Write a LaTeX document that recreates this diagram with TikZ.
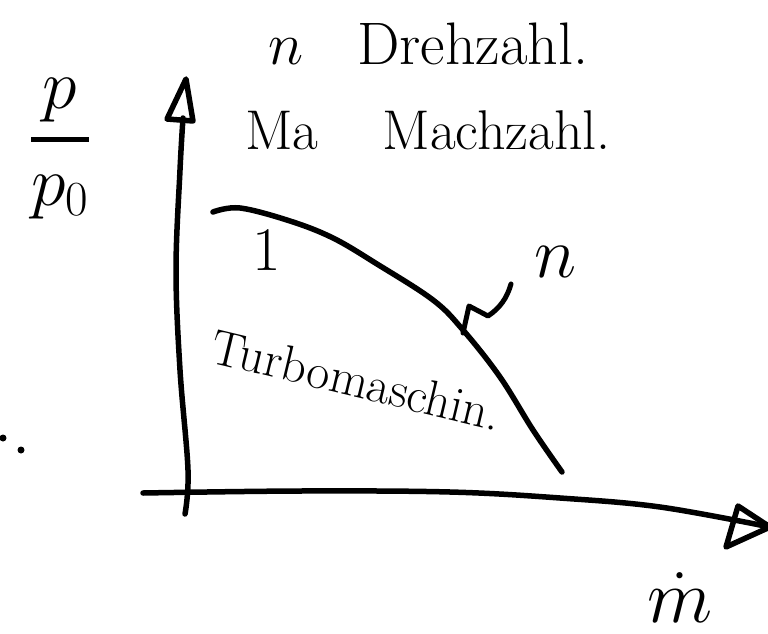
\RequirePackage{fix-cm}
\documentclass[tikz,border=0pt]{standalone}
\usepackage{amsmath}
\usetikzlibrary{calc}
\tikzset{
  pen/.style={line width=5.5pt, line cap=round, line join=round, black},
  thinpen/.style={line width=5pt, line cap=round, line join=round, black},
  hand/.style={inner sep=0pt, outer sep=0pt, text=black},
  blob/.style={circle, fill=black, inner sep=0pt, minimum size=7pt}
}
\newcommand{\fs}[1]{\fontsize{#1}{1.2\dimexpr#1pt\relax}\selectfont}
\begin{document}
\begin{tikzpicture}[x=1pt,y=-1pt]
  \clip (0,0) rectangle (768,634);
  \fill[white] (0,0) rectangle (768,634);

  % coordinates of the axes
  \coordinate (ybot) at (185,514);
  \coordinate (ytop) at (183,118);
  \coordinate (ytip) at (186,79);
  \coordinate (yleft) at (167,119);
  \coordinate (yright) at (193,121);
  \coordinate (xleft) at (143,493);
  \coordinate (xright) at (770,527);
  \coordinate (xup) at (738,506);
  \coordinate (xdown) at (726,547);

  % y axis
  \draw[pen] plot[smooth, tension=0.6] coordinates {(ybot) (188,470) (180,370) (176,270) (180,170) (ytop)};
  \draw[pen] (ytip) -- (yleft) -- (yright) -- cycle;

  % x axis
  \draw[pen] plot[smooth, tension=0.6] coordinates {(xleft) (300,491) (450,492) (560,498) (660,507) (xright)};
  \draw[pen] (xup) -- (xdown) -- (xright) -- cycle;

  % characteristic curve
  \draw[pen] plot[smooth, tension=0.6] coordinates {(213,212) (240,208) (290,221) (333,238) (377,264) (433,300) (463,330) (500,377) (533,430) (562,472)};

  % leader to the curve label
  \coordinate (lead0) at (463,333);
  \draw[thinpen] (lead0) -- (469,306) -- (488,316) .. controls (500,308) and (507,298) .. (511,284);

  % texts
  \node[hand, anchor=base west] (drehzahl) at (268,64) {\fs{60}$n$\hspace{0.9em}Drehzahl.};
  \node[hand, anchor=base west] (machzahl) at (245,149) {\fs{56}Ma\hspace{1.15em}Machzahl.};
  \node[hand, anchor=base] (frac) at (60,157) {\fs{70}$\displaystyle\genfrac{}{}{5pt}{0}{p}{p_0}$};
  \node[hand, anchor=base] (mdot) at (680,622) {\fs{76}$\dot m$};
  \node[hand, anchor=base] (nlabel) at (556,277) {\fs{72}$n$};
  \node[hand] (one) at (267,250) {\fs{62}1};
  \node[hand, anchor=base west, rotate=-13.5] (turbo) at (208,362) {\fs{50}Turbomaschin.};

  % stray dots at the left edge
  \node[blob] (dotA) at (3,438) {};
  \node[blob] (dotB) at (21,450) {};
\end{tikzpicture}
\end{document}
